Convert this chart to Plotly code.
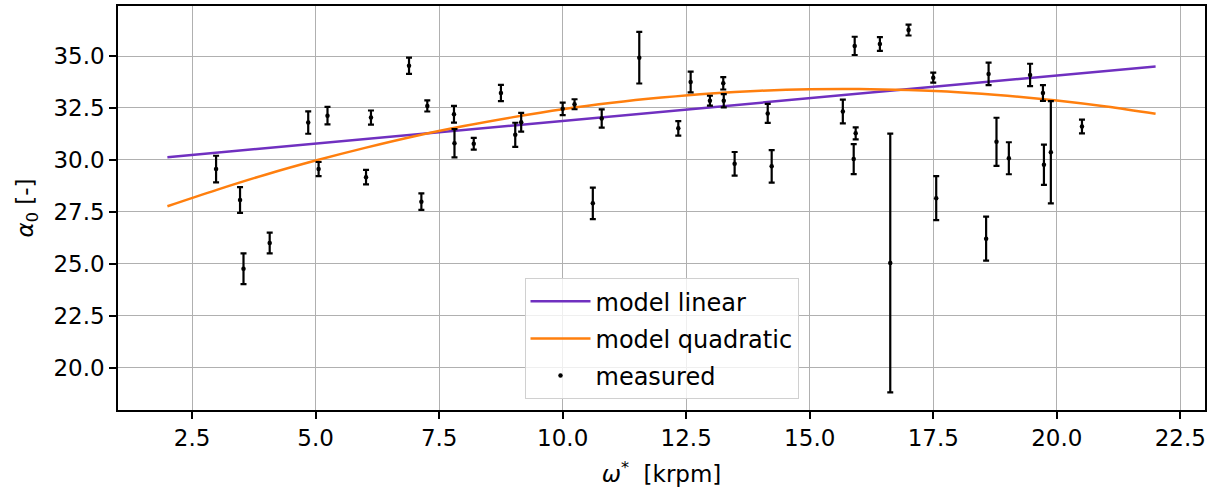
import plotly.graph_objects as go

# measured points (omega* [krpm], alpha_0 [-], symmetric error)
omega = [2.985, 3.47, 3.54, 4.07, 4.85, 5.24, 5.06, 6.02, 6.12,
         6.89, 7.26, 7.14, 7.80, 7.81, 8.20, 8.75, 9.04, 9.16, 10.0, 10.24, 10.61, 10.79, 11.55,
         12.34, 12.59, 12.98, 13.25, 13.26, 13.48, 14.15, 14.23, 15.67, 15.91, 15.93, 15.89,
         16.42, 16.63, 17.0, 17.5, 17.56,
         18.62, 18.57, 18.78, 19.03, 19.46, 19.72, 19.74, 19.88, 20.51]
alpha = [29.56, 28.07, 24.76, 26.0, 31.80, 32.13, 29.56, 29.17, 32.04,
         34.53, 32.6, 27.99, 32.2, 30.80, 30.78, 33.22, 31.21, 31.81, 32.46, 32.68, 27.91, 31.99, 34.92,
         31.52, 33.75, 32.85, 33.69, 32.85, 29.81, 32.24, 29.69, 32.33, 35.49, 31.28, 30.04,
         35.58, 25.04, 36.25, 33.96, 28.16,
         34.14, 26.21, 30.87, 30.08, 34.09, 33.22, 29.77, 30.37, 31.61]
alpha_err = [0.64, 0.62, 0.74, 0.5, 0.54, 0.42, 0.34, 0.35, 0.34,
             0.39, 0.27, 0.40, 0.40, 0.68, 0.28, 0.39, 0.58, 0.45, 0.30, 0.24, 0.76, 0.44, 1.24,
             0.35, 0.50, 0.24, 0.30, 0.32, 0.57, 0.46, 0.78, 0.57, 0.44, 0.29, 0.72,
             0.33, 6.23, 0.26, 0.24, 1.06,
             0.54, 1.06, 1.16, 0.77, 0.54, 0.38, 0.97, 2.46, 0.33]

# model lines
lin_x = [2.0, 22.0]
lin_y = [30.13, 34.50]
quad_x = [2, 3, 4, 5, 6, 7, 8, 9, 10, 11, 12, 13, 14, 15, 16, 17, 18, 19, 20, 21, 22]
quad_y = [27.77, 28.56, 29.30, 29.97, 30.58, 31.14, 31.63, 32.06, 32.44, 32.75, 33.00,
          33.20, 33.33, 33.40, 33.41, 33.36, 33.26, 33.09, 32.86, 32.57, 32.22]

x_ticks = [2.5, 5.0, 7.5, 10.0, 12.5, 15.0, 17.5, 20.0, 22.5]
y_ticks = [20.0, 22.5, 25.0, 27.5, 30.0, 32.5, 35.0]

FONT = "DejaVu Sans"

fig = go.Figure()
fig.add_trace(go.Scatter(x=lin_x, y=lin_y, mode="lines", name="model linear", legendgroup="a",
                         line=dict(color="#7030c0", width=2.5)))
fig.add_trace(go.Scatter(x=quad_x, y=quad_y, mode="lines", name="model quadratic", legendgroup="b",
                         line=dict(color="#ff7f0e", width=2.5, shape="spline")))
fig.add_trace(go.Scatter(x=omega, y=alpha, mode="markers", name="measured", legendgroup="c",
                         marker=dict(color="black", size=4.5),
                         error_y=dict(type="data", array=alpha_err, visible=True,
                                      color="black", thickness=2.2, width=3)))

axis_common = dict(showline=True, linecolor="black", linewidth=1.5, mirror=True,
                   showgrid=True, gridcolor="#b0b0b0", gridwidth=1.2,
                   ticks="outside", ticklen=7, tickwidth=1.5, tickcolor="black",
                   zeroline=False, tickfont=dict(family=FONT, size=23, color="black"))

fig.update_xaxes(range=[1.0, 23.0], tickvals=x_ticks, tickformat=".1f",
                 title=dict(text="<i>ω</i><sup>*</sup>  [krpm]", font=dict(family=FONT, size=23, color="black"),
                            standoff=16),
                 **axis_common)
fig.update_yaxes(range=[17.96, 37.41], tickvals=y_ticks, tickformat=".1f",
                 title=dict(text="<i>α</i><sub>0</sub> [-]", font=dict(family=FONT, size=23, color="black"),
                            standoff=13),
                 **axis_common)

fig.update_layout(
    width=1217, height=494,
    margin=dict(l=118, r=12, t=4, b=84),
    paper_bgcolor="white", plot_bgcolor="white",
    font=dict(family=FONT, color="black"),
    showlegend=True,
    legend=dict(x=0.5, y=0.027, xanchor="center", yanchor="bottom",
                bgcolor="rgba(255,255,255,0.8)", bordercolor="#d0d0d0", borderwidth=1,
                font=dict(family=FONT, size=24, color="black"),
                itemwidth=60, tracegroupgap=3, traceorder="grouped"),
)

fig.write_html("out.html")
